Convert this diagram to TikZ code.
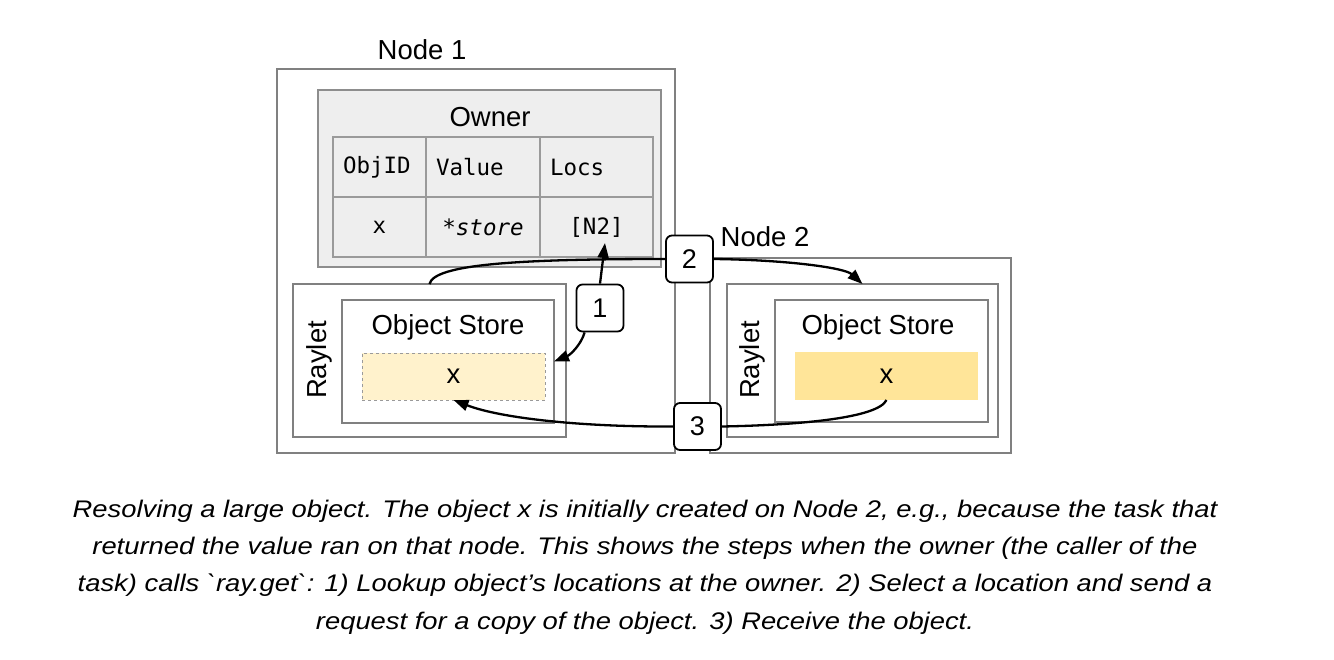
\documentclass[tikz,border=0pt]{standalone}
\usepackage{fontspec}
\setmainfont{Liberation Sans}
\setmonofont{DejaVu Sans Mono}
\newfontfamily\capfont{Liberation Sans}[Ligatures=TeXOff, FakeStretch=1.14]
\usetikzlibrary{arrows.meta}
\definecolor{boxgray}{HTML}{808080}
\definecolor{tablegray}{HTML}{9A9A9A}
\definecolor{ownerfill}{HTML}{EEEEEE}
\definecolor{lightx}{HTML}{FFF2CC}
\definecolor{darkx}{HTML}{FFE599}

\begin{document}
\begin{tikzpicture}[x=1pt,y=-1pt,
  box/.style={draw=boxgray, line width=1.6pt, anchor=north west, inner sep=0pt, outer sep=0pt},
  hcell/.style={draw=tablegray, line width=1.1pt, anchor=north west, outer sep=0pt, inner xsep=10pt,
    text width=#1, align=left, minimum height=60pt, font=\ttfamily\fontsize{22.5}{27}\selectfont},
  vcell/.style={draw=tablegray, line width=1.1pt, anchor=north west, outer sep=0pt,
    minimum width=#1, minimum height=60pt, font=\ttfamily\fontsize{22.5}{27}\selectfont},
  numbox/.style={draw, line width=1.8pt, rounded corners=6pt, fill=white, minimum size=47pt,
    inner sep=0pt, font=\fontsize{27}{30}\selectfont},
  flow/.style={line width=2.3pt, -{Triangle[length=15pt,width=11pt]}},
  every node/.append style={font=\fontsize{27.5}{30}\selectfont}]
\useasboundingbox (0,0) rectangle (1334,659);

% Node 1
\node[box, minimum width=398pt, minimum height=384pt] (node1) at (277,69) {};
\node (node1lbl) at (422,50) {Node 1};
\node[box, draw=boxgray!90, line width=2pt, fill=ownerfill, minimum width=343pt, minimum height=177pt] (owner) at (318,90) {};
\node (ownerlbl) at (490,117) {Owner};
\node[hcell=73pt] (hid) at (333,137) {ObjID};
\node[hcell=94pt] (hval) at (426,137) {Value};
\node[hcell=93pt] (hlocs) at (540,137) {Locs};
\node[vcell=93pt] (vid) at (333,197) {x};
\node[vcell=114pt] (vval) at (426,197) {\itshape *store};
\node[vcell=113pt] (vlocs) at (540,197) {[N2]};
\coordinate (n2tip) at (605,243);

\node[box, minimum width=273pt, minimum height=153pt] (rayletL) at (293,284) {};
\node[rotate=90] (rayletLlbl) at (319,360) {Raylet};
\node[box, minimum width=212pt, minimum height=123pt] (storeL) at (342,300) {};
\node (storeLlbl) at (448,327) {Object Store};
\node[box, draw=tablegray, line width=0.9pt, dashed, fill=lightx, minimum width=183pt, minimum height=47pt] (xL) at (362,353) {x};

% Node 2
\node[box, minimum width=301pt, minimum height=195pt] (node2) at (710,258) {};
\node (node2lbl) at (765,237) {Node 2};
\node[box, minimum width=271pt, minimum height=153pt] (rayletR) at (727,284) {};
\node[rotate=90] (rayletRlbl) at (752,360) {Raylet};
\node[box, minimum width=213pt, minimum height=122pt] (storeR) at (775,300) {};
\node (storeRlbl) at (878,327) {Object Store};
\node[box, draw=none, fill=darkx, minimum width=183pt, minimum height=48pt] (xR) at (795,352) {x};

% steps
\node[numbox] (one) at (600,308) {1};
\node[numbox] (two) at (689.5,259) {2};
\node[numbox] (three) at (697.5,426.5) {3};

\draw[flow] (one.north) -- (n2tip);
\draw[flow] ([xshift=9pt]one.south west) .. controls (581,345) and (570,355) .. (storeL.east);
\draw[line width=2.3pt] (rayletL.north) .. controls (434,264) and (520,259) .. (two.west);
\draw[flow] (two.east) .. controls (790,260) and (845,268) .. (rayletR.north);
\draw[line width=2.3pt] (xR.south) .. controls (878,418) and (800,425) .. (three.east);
\draw[flow] (three.west) .. controls (580,427) and (500,418) .. (xL.south);

% caption
\node[align=center, font=\capfont\itshape\fontsize{24}{37.3}\selectfont] (caption) at (645,567)
  {Resolving a large object. The object x is initially created on Node 2, e.g., because the task that\\
   returned the value ran on that node. This shows the steps when the owner (the caller of the\\
   task) calls `ray.get`: 1) Lookup object’s locations at the owner. 2) Select a location and send a\\
   request for a copy of the object. 3) Receive the object.};
\end{tikzpicture}
\end{document}
